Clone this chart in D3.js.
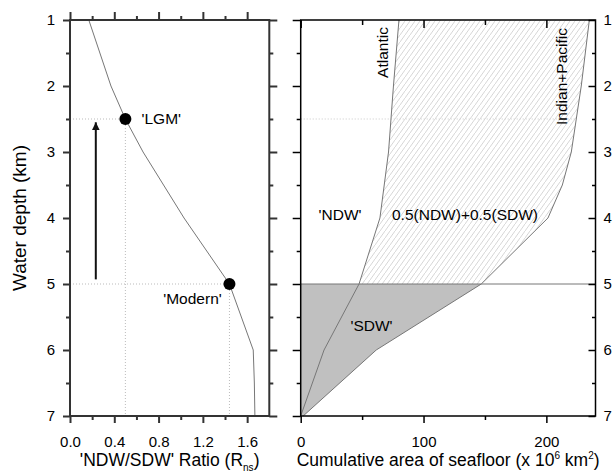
<!DOCTYPE html>
<html>
<head>
<meta charset="utf-8">
<script src="https://cdn.jsdelivr.net/npm/d3@7"></script>
<style>
  body { margin: 0; background: #fff; }
  svg text { font-family: "Liberation Sans", Arial, sans-serif; fill: #000; }
</style>
</head>
<body>
<div id="chart"></div>
<script>
// left panel: NDW/SDW ratio profile
const depthL = [1, 2, 2.5, 3, 4, 5, 6, 6.5, 7];
const ratio = [0.17, 0.37, 0.5, 0.66, 1.03, 1.44, 1.655, 1.665, 1.67];
const markNames = ["'LGM'", "'Modern'"];
const markRatio = [0.5, 1.44];
const markDepth = [2.5, 5];
const ratioTicks = [0, 0.4, 0.8, 1.2, 1.6];
const ratioMinor = [0.2, 0.6, 1.0, 1.4];

// right panel: cumulative seafloor area
const depthAtl = [1, 2, 3, 4, 5, 6, 7];
const atlantic = [80, 75.5, 71.5, 64.5, 47.5, 19, 0];
const depthIP = [1, 2, 3, 3.5, 4, 5, 6, 7];
const indoPac = [235, 228.4, 220.3, 213, 201.3, 147, 61.5, 2];
const areaTicks = [0, 100, 200];
const areaMinor = [50, 150];

const depthTicks = [1, 2, 3, 4, 5, 6, 7];
const depthMinor = [1.5, 2.5, 3.5, 4.5, 5.5, 6.5];

const width = 614, height = 473;
const yTop = 20, yBot = 416;

const svg = d3.select("#chart").append("svg")
    .attr("width", width)
    .attr("height", height);

const defs = svg.append("defs");
defs.append("pattern")
    .attr("id", "hatch")
    .attr("patternUnits", "userSpaceOnUse")
    .attr("width", 5)
    .attr("height", 7)
    .append("path")
    .attr("d", "M-1,8.4 L6,-1.4")
    .attr("stroke", "#c4c4c4")
    .attr("stroke-width", 0.7);

defs.append("marker")
    .attr("id", "head")
    .attr("viewBox", "0 0 10 10")
    .attr("refX", 10).attr("refY", 5)
    .attr("markerWidth", 4).attr("markerHeight", 4)
    .attr("orient", "auto")
    .append("path")
    .attr("d", "M0,0 L10,5 L0,10 Z")
    .attr("fill", "#111");

const y = d3.scaleLinear().domain([1, 7]).range([yTop, yBot]);
const xL = d3.scaleLinear().domain([0, 1.8]).range([70, 269.3]);
const xR = d3.scaleLinear().domain([0, 240]).range([300.7, 595.5]);

// draws a major + minor tick axis
function axis(gen, scale, major, minor, size, minorSize, pos, color, sw, fmt) {
    const g = svg.append("g").attr("transform", pos);
    g.call(gen(scale).tickValues(major).tickSize(size).tickPadding(8)
        .tickFormat(fmt || ""));
    g.append("g").call(gen(scale).tickValues(minor).tickSize(minorSize).tickFormat(""));
    g.selectAll(".domain").remove();
    g.selectAll("line").attr("stroke", color).attr("stroke-width", sw);
    g.selectAll("text").attr("font-size", "15px")
        .attr("font-family", "Liberation Sans, Arial, sans-serif").attr("fill", "#000");
    return g;
}

// ---------- left panel ----------
const lineL = d3.line().x(d => xL(d[1])).y(d => y(d[0]));
const ptsL = depthL.map((d, i) => [d, ratio[i]]);

const dotted = svg.append("g")
    .attr("stroke", "#bbb").attr("stroke-width", 1).attr("stroke-dasharray", "1,2").attr("fill", "none");
markRatio.forEach((r, i) => {
    dotted.append("line")
        .attr("x1", xL(0)).attr("x2", xL(r))
        .attr("y1", y(markDepth[i])).attr("y2", y(markDepth[i]));
    dotted.append("line")
        .attr("x1", xL(r)).attr("x2", xL(r))
        .attr("y1", y(markDepth[i])).attr("y2", y(7));
});

svg.append("path")
    .attr("d", lineL(ptsL))
    .attr("fill", "none").attr("stroke", "#777").attr("stroke-width", 1);

svg.selectAll("circle.mark")
    .data(markRatio)
    .join("circle")
    .attr("class", "mark")
    .attr("cx", d => xL(d))
    .attr("cy", (d, i) => y(markDepth[i]))
    .attr("r", 6)
    .attr("fill", "#000");

svg.append("text").attr("x", 141.5).attr("y", 124).attr("font-size", "15.5px").text(markNames[0]);
svg.append("text").attr("x", 192.5).attr("y", 303.5).attr("font-size", "15.5px")
    .attr("text-anchor", "middle").text(markNames[1]);

svg.append("line")
    .attr("x1", xL(0.233)).attr("x2", xL(0.233))
    .attr("y1", y(4.93)).attr("y2", y(2.55))
    .attr("stroke", "#111").attr("stroke-width", 2)
    .attr("marker-end", "url(#head)");

const cL = "#333", wL = 2;
axis(d3.axisLeft, y, depthTicks, depthMinor, 7, 4, `translate(${xL(0)},0)`, cL, wL, d3.format("d"));
axis(d3.axisRight, y, depthTicks, depthMinor, 8, 4, `translate(${xL(1.8)},0)`, cL, wL);
axis(d3.axisBottom, xL, ratioTicks, ratioMinor, 7, 4, `translate(0,${yBot})`, cL, wL, d3.format(".1f"))
    .selectAll("text").attr("dy", "1.05em");
axis(d3.axisTop, xL, ratioTicks, ratioMinor, 8, 4, `translate(0,${yTop})`, cL, wL);

svg.append("rect")
    .attr("x", xL(0)).attr("y", yTop)
    .attr("width", xL(1.8) - xL(0)).attr("height", yBot - yTop)
    .attr("fill", "none").attr("stroke", cL).attr("stroke-width", wL);

// ---------- right panel ----------
const lineR = d3.line().x(d => xR(d[1])).y(d => y(d[0]));
const atl = depthAtl.map((d, i) => [d, atlantic[i]]);
const ip = depthIP.map((d, i) => [d, indoPac[i]]);

// hatched band between Atlantic and Indian+Pacific above 5 km
const band = atl.filter(p => p[0] <= 5).concat(ip.filter(p => p[0] <= 5).reverse());
svg.append("path")
    .attr("d", lineR(band) + "Z")
    .attr("fill", "url(#hatch)").attr("stroke", "none");

// grey area below 5 km
const deep = [[5, 0]].concat(ip.filter(p => p[0] >= 5)).concat([[7, 0]]);
svg.append("path")
    .attr("d", lineR(deep) + "Z")
    .attr("fill", "#c0c0c0").attr("stroke", "none");

svg.append("line")
    .attr("x1", xR(0)).attr("x2", xR(224.4))
    .attr("y1", y(2.5)).attr("y2", y(2.5))
    .attr("stroke", "#c8c8c8").attr("stroke-width", 1).attr("stroke-dasharray", "1,2");

svg.append("line")
    .attr("x1", xR(0)).attr("x2", xR(240))
    .attr("y1", y(5)).attr("y2", y(5))
    .attr("stroke", "#777").attr("stroke-width", 1);

[atl, ip].forEach(s => {
    svg.append("path")
        .attr("d", lineR(s))
        .attr("fill", "none").attr("stroke", "#777").attr("stroke-width", 1);
});

svg.append("text")
    .attr("transform", "translate(388,52.5) rotate(-90)")
    .attr("text-anchor", "middle").attr("font-size", "15.5px").text("Atlantic");
svg.append("text")
    .attr("transform", "translate(567,76.5) rotate(-90)")
    .attr("text-anchor", "middle").attr("font-size", "15.5px").text("Indian+Pacific");
svg.append("text").attr("x", 340).attr("y", 220).attr("text-anchor", "middle")
    .attr("font-size", "15.5px").text("'NDW'");
svg.append("text").attr("x", 465).attr("y", 220).attr("text-anchor", "middle")
    .attr("font-size", "15.5px").text("0.5(NDW)+0.5(SDW)");
svg.append("text").attr("x", 371.5).attr("y", 331).attr("text-anchor", "middle")
    .attr("font-size", "15.5px").text("'SDW'");

const cR = "#000", wR = 1.5;
axis(d3.axisLeft, y, depthTicks, depthMinor, 8, 4, `translate(${xR(0)},0)`, cR, wR);
axis(d3.axisRight, y, depthTicks, depthMinor, -7, -3.5, `translate(${xR(240)},0)`, cR, wR, d3.format("d"));
axis(d3.axisBottom, xR, areaTicks, areaMinor, 7, 4, `translate(0,${yBot})`, cR, wR, d3.format("d"))
    .selectAll("text").attr("dy", "1.05em");
axis(d3.axisTop, xR, areaTicks, areaMinor, -8, -5, `translate(0,${yTop})`, cR, wR);

svg.append("rect")
    .attr("x", xR(0)).attr("y", yTop)
    .attr("width", xR(240) - xR(0)).attr("height", yBot - yTop)
    .attr("fill", "none").attr("stroke", cR).attr("stroke-width", wR);

// ---------- titles ----------
svg.append("text")
    .attr("transform", `translate(26,${(yTop + yBot) / 2}) rotate(-90)`)
    .attr("text-anchor", "middle").attr("font-size", "19px").text("Water depth (km)");

const tL = svg.append("text")
    .attr("x", (xL(0) + xL(1.8)) / 2).attr("y", 466)
    .attr("text-anchor", "middle").attr("font-size", "17.5px");
tL.append("tspan").text("'NDW/SDW' Ratio (R");
tL.append("tspan").attr("font-size", "10px").attr("dy", 5).text("ns");
tL.append("tspan").attr("dy", -5).text(")");

const tR = svg.append("text")
    .attr("x", (xR(0) + xR(240)) / 2).attr("y", 466)
    .attr("text-anchor", "middle").attr("font-size", "17.5px");
tR.append("tspan").text("Cumulative area of seafloor (x 10");
tR.append("tspan").attr("font-size", "10px").attr("dy", -7).text("6");
tR.append("tspan").attr("dy", 7).text(" km");
tR.append("tspan").attr("font-size", "10px").attr("dy", -7).text("2");
tR.append("tspan").attr("dy", 7).text(")");
</script>
</body>
</html>
